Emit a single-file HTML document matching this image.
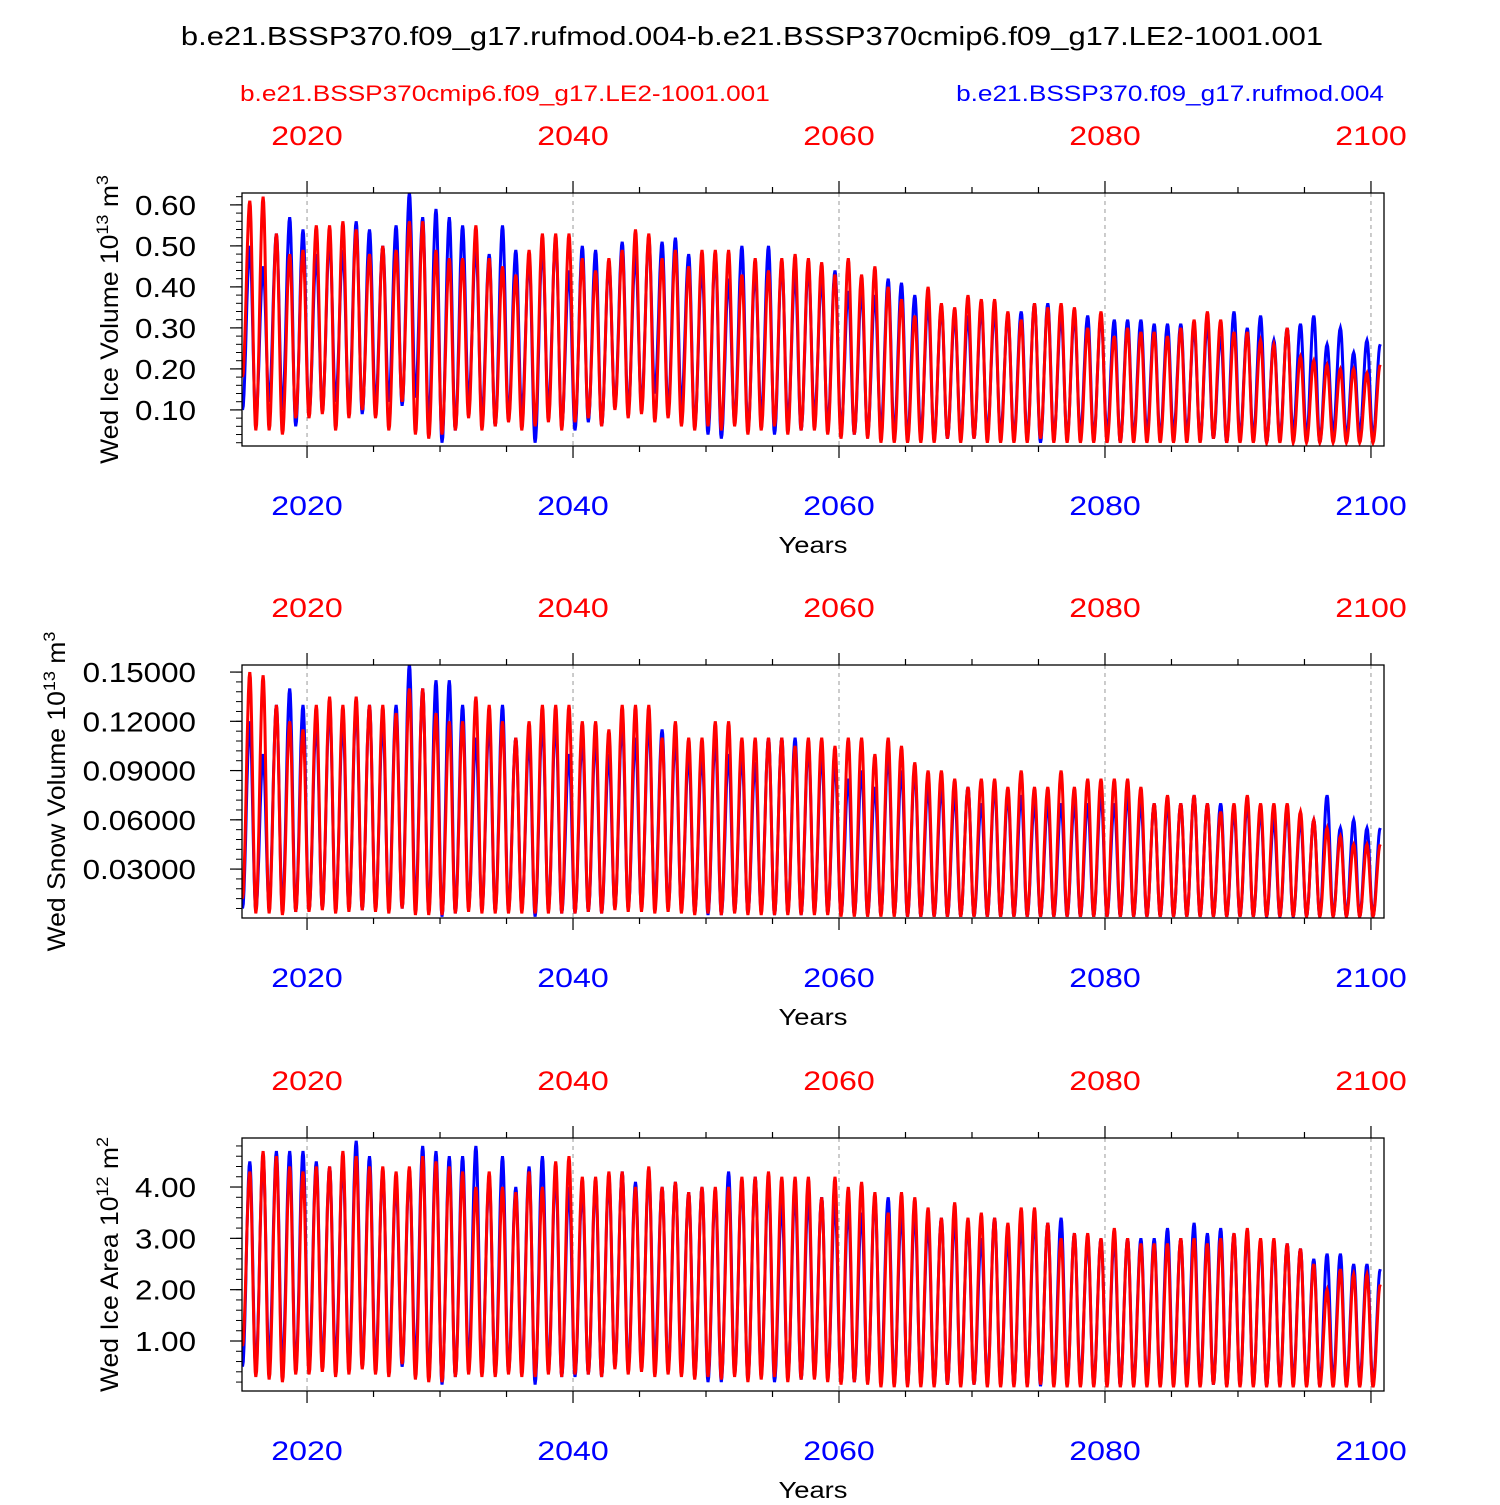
<!DOCTYPE html>
<html><head><meta charset="utf-8"><style>
body{margin:0;background:#fff;width:1500px;height:1500px;overflow:hidden}
svg{font-family:"Liberation Sans",sans-serif}
</style></head><body>
<svg id="chart" width="1500" height="1500" viewBox="0 0 1500 1500" xmlns="http://www.w3.org/2000/svg">
<text class="s19" x="752" y="45" font-size="26" text-anchor="middle">b.e21.BSSP370.f09_g17.rufmod.004-b.e21.BSSP370cmip6.f09_g17.LE2-1001.001</text>
<text class="s19" x="240" y="101" font-size="22" fill="#f00">b.e21.BSSP370cmip6.f09_g17.LE2-1001.001</text>
<text class="s19" x="1384" y="101" font-size="22" fill="#00f" text-anchor="end">b.e21.BSSP370.f09_g17.rufmod.004</text>
</svg>
<script>
const years=[];for(let y=2015;y<=2100;y++)years.push(y);
const xTicks=[2020,2040,2060,2080,2100];
const iceBlueMax=[0.50,0.45,0.53,0.57,0.54,0.48,0.52,0.49,0.56,0.54,0.50,0.55,0.63,0.57,0.59,0.57,0.55,0.50,0.48,0.55,0.49,0.47,0.50,0.52,0.44,0.50,0.49,0.46,0.51,0.48,0.52,0.51,0.52,0.48,0.45,0.48,0.42,0.50,0.44,0.50,0.46,0.43,0.45,0.42,0.44,0.39,0.39,0.38,0.42,0.41,0.38,0.36,0.35,0.33,0.33,0.35,0.34,0.33,0.34,0.36,0.36,0.33,0.33,0.33,0.33,0.32,0.32,0.32,0.31,0.31,0.31,0.30,0.31,0.28,0.34,0.30,0.33,0.27,0.30,0.31,0.33,0.26,0.30,0.24,0.27,0.26];
const iceBlueMin=[0.10,0.08,0.12,0.10,0.06,0.09,0.10,0.12,0.10,0.09,0.11,0.12,0.11,0.13,0.07,0.02,0.05,0.12,0.08,0.06,0.08,0.09,0.02,0.10,0.06,0.05,0.07,0.06,0.11,0.10,0.11,0.14,0.10,0.11,0.06,0.04,0.03,0.07,0.05,0.08,0.04,0.07,0.05,0.08,0.06,0.05,0.04,0.04,0.05,0.04,0.03,0.04,0.03,0.03,0.04,0.03,0.04,0.04,0.03,0.03,0.02,0.03,0.03,0.04,0.03,0.04,0.02,0.03,0.04,0.03,0.04,0.04,0.03,0.03,0.02,0.03,0.03,0.02,0.03,0.04,0.03,0.02,0.04,0.03,0.04,0.03];
const iceRedMax=[0.61,0.62,0.53,0.48,0.49,0.55,0.55,0.56,0.54,0.48,0.50,0.49,0.56,0.56,0.49,0.47,0.47,0.55,0.47,0.45,0.43,0.49,0.53,0.53,0.53,0.47,0.44,0.47,0.49,0.54,0.53,0.47,0.49,0.45,0.49,0.49,0.49,0.43,0.47,0.44,0.47,0.48,0.47,0.46,0.43,0.47,0.43,0.45,0.40,0.37,0.33,0.40,0.36,0.35,0.38,0.37,0.37,0.34,0.32,0.36,0.35,0.36,0.35,0.30,0.34,0.28,0.30,0.29,0.29,0.28,0.30,0.32,0.34,0.32,0.29,0.29,0.27,0.26,0.30,0.23,0.22,0.21,0.20,0.20,0.19,0.21];
const iceRedMin=[0.18,0.05,0.05,0.04,0.08,0.08,0.09,0.05,0.08,0.10,0.08,0.05,0.12,0.04,0.03,0.04,0.05,0.08,0.05,0.06,0.07,0.05,0.06,0.07,0.05,0.07,0.08,0.06,0.10,0.08,0.09,0.07,0.08,0.06,0.05,0.06,0.05,0.06,0.04,0.05,0.06,0.04,0.05,0.05,0.04,0.03,0.04,0.03,0.02,0.02,0.02,0.02,0.02,0.03,0.02,0.03,0.02,0.02,0.02,0.02,0.03,0.02,0.02,0.02,0.02,0.02,0.02,0.02,0.02,0.02,0.02,0.02,0.02,0.03,0.02,0.02,0.02,0.02,0.02,0.02,0.02,0.02,0.02,0.02,0.02,0.02];
const snowBlueMax=[0.12,0.10,0.13,0.14,0.13,0.12,0.13,0.12,0.13,0.13,0.12,0.13,0.155,0.14,0.145,0.145,0.13,0.11,0.12,0.13,0.11,0.11,0.12,0.12,0.10,0.11,0.11,0.10,0.12,0.11,0.12,0.115,0.11,0.10,0.10,0.11,0.10,0.10,0.095,0.11,0.11,0.11,0.105,0.10,0.095,0.085,0.09,0.08,0.10,0.09,0.09,0.08,0.08,0.075,0.08,0.07,0.08,0.075,0.075,0.07,0.07,0.07,0.07,0.07,0.075,0.07,0.075,0.07,0.07,0.07,0.07,0.075,0.07,0.07,0.065,0.07,0.065,0.06,0.065,0.06,0.06,0.075,0.055,0.06,0.055,0.055];
const snowBlueMin=[0.006,0.005,0.008,0.006,0.004,0.005,0.006,0.007,0.006,0.005,0.006,0.007,0.006,0.008,0.004,0.001,0.003,0.007,0.005,0.004,0.005,0.005,0.001,0.006,0.003,0.003,0.004,0.003,0.006,0.006,0.006,0.008,0.006,0.006,0.003,0.002,0.002,0.004,0.003,0.004,0.002,0.003,0.002,0.004,0.003,0.002,0.002,0.002,0.002,0.002,0.001,0.001,0.001,0.001,0.001,0.001,0.001,0.001,0.001,0.001,0.001,0.001,0.001,0.001,0.001,0.001,0.001,0.001,0.001,0.001,0.001,0.001,0.001,0.001,0.001,0.001,0.001,0.001,0.001,0.001,0.001,0.001,0.001,0.001,0.001,0.001];
const snowRedMax=[0.15,0.148,0.13,0.12,0.115,0.13,0.135,0.13,0.135,0.13,0.13,0.125,0.14,0.14,0.125,0.12,0.12,0.135,0.13,0.12,0.11,0.12,0.13,0.13,0.13,0.12,0.12,0.115,0.13,0.13,0.13,0.11,0.12,0.11,0.11,0.12,0.12,0.11,0.11,0.11,0.11,0.105,0.11,0.11,0.105,0.11,0.11,0.10,0.11,0.105,0.095,0.09,0.09,0.085,0.08,0.085,0.085,0.08,0.09,0.08,0.08,0.09,0.08,0.085,0.085,0.085,0.085,0.08,0.07,0.075,0.07,0.075,0.07,0.065,0.07,0.075,0.07,0.07,0.07,0.065,0.06,0.055,0.05,0.045,0.045,0.045];
const snowRedMin=[0.012,0.003,0.003,0.002,0.004,0.004,0.005,0.003,0.004,0.005,0.004,0.003,0.006,0.002,0.002,0.002,0.003,0.004,0.003,0.003,0.003,0.003,0.003,0.003,0.003,0.003,0.004,0.003,0.005,0.004,0.004,0.003,0.004,0.003,0.002,0.003,0.002,0.003,0.002,0.002,0.002,0.002,0.002,0.002,0.002,0.001,0.001,0.001,0.001,0.001,0.001,0.001,0.001,0.001,0.001,0.001,0.001,0.001,0.001,0.001,0.001,0.001,0.001,0.001,0.001,0.001,0.001,0.001,0.001,0.001,0.001,0.001,0.001,0.001,0.001,0.001,0.001,0.001,0.001,0.001,0.001,0.001,0.001,0.001,0.001,0.001];
const areaBlueMax=[4.5,4.6,4.7,4.7,4.7,4.5,4.4,4.5,4.9,4.6,4.3,4.1,4.3,4.8,4.7,4.6,4.6,4.8,4.2,4.6,4.0,4.4,4.6,4.3,4.0,4.0,4.1,4.2,4.3,4.1,4.3,4.0,4.1,3.9,4.0,3.9,4.3,4.1,4.2,4.1,3.7,3.9,3.8,3.8,3.7,3.6,3.5,3.8,3.8,3.5,3.5,3.3,3.4,3.4,3.3,3.0,3.4,3.0,3.3,3.4,3.3,3.4,3.1,3.0,3.0,3.0,3.0,3.0,3.0,3.2,3.0,3.3,3.1,3.2,3.1,3.1,2.9,2.9,2.9,2.8,2.6,2.7,2.7,2.5,2.5,2.4];
const areaBlueMin=[0.5,0.45,0.6,0.5,0.45,0.5,0.55,0.6,0.5,0.5,0.55,0.6,0.5,0.6,0.3,0.15,0.3,0.55,0.4,0.35,0.4,0.45,0.15,0.45,0.3,0.3,0.35,0.3,0.5,0.45,0.5,0.6,0.45,0.5,0.3,0.2,0.2,0.35,0.25,0.35,0.2,0.3,0.25,0.35,0.3,0.2,0.2,0.2,0.25,0.2,0.15,0.2,0.15,0.15,0.2,0.15,0.2,0.2,0.15,0.15,0.12,0.15,0.15,0.2,0.15,0.2,0.12,0.15,0.2,0.15,0.2,0.2,0.15,0.15,0.12,0.15,0.15,0.12,0.15,0.2,0.15,0.12,0.2,0.15,0.2,0.15];
const areaRedMax=[4.3,4.7,4.6,4.4,4.3,4.4,4.4,4.7,4.6,4.4,4.4,4.3,4.4,4.6,4.5,4.4,4.3,4.0,4.3,4.0,3.9,4.3,4.0,4.5,4.6,4.2,4.2,4.3,4.3,4.0,4.4,4.0,4.1,3.9,4.0,4.0,4.0,4.2,4.2,4.3,4.2,4.2,4.2,3.8,4.2,4.0,4.1,3.9,3.5,3.9,3.8,3.6,3.4,3.7,3.4,3.5,3.4,3.3,3.6,3.6,3.3,3.0,3.1,3.1,3.0,3.2,3.0,2.9,2.9,2.9,3.0,3.0,2.9,3.0,3.1,3.2,3.0,3.0,2.9,2.8,2.5,2.0,2.4,2.3,2.3,2.1];
const areaRedMin=[0.9,0.3,0.25,0.2,0.35,0.35,0.4,0.3,0.35,0.45,0.35,0.3,0.55,0.25,0.2,0.2,0.3,0.35,0.3,0.3,0.35,0.3,0.3,0.35,0.3,0.35,0.35,0.3,0.45,0.35,0.4,0.3,0.35,0.3,0.25,0.3,0.25,0.3,0.2,0.25,0.3,0.2,0.25,0.25,0.2,0.15,0.2,0.15,0.1,0.1,0.1,0.1,0.1,0.15,0.1,0.15,0.1,0.1,0.1,0.1,0.15,0.1,0.1,0.1,0.1,0.1,0.1,0.1,0.1,0.1,0.1,0.1,0.1,0.15,0.1,0.1,0.1,0.1,0.1,0.1,0.1,0.1,0.1,0.1,0.1,0.1];
const iceTicks=[0.10,0.20,0.30,0.40,0.50,0.60];
const iceLabels=["0.10","0.20","0.30","0.40","0.50","0.60"];
const snowTicks=[0.03,0.06,0.09,0.12,0.15];
const snowLabels=["0.03000","0.06000","0.09000","0.12000","0.15000"];
const areaTicks=[1,2,3,4];
const areaLabels=["1.00","2.00","3.00","4.00"];

const svg=document.getElementById('chart');
const NS='http://www.w3.org/2000/svg';
const X0=242,X1=1384,T0=2015.11,T1=2100.98;
const xs=t=>X0+(t-T0)/(T1-T0)*(X1-X0);
function mk(tag,attrs,parent){const e=document.createElementNS(NS,tag);for(const k in attrs)e.setAttribute(k,attrs[k]);(parent||svg).appendChild(e);return e;}

const panels=[
 {top:193,bot:446,ymin:0.012,ymax:0.629,ticks:iceTicks,labels:iceLabels,minor:0.02,title:'Wed Ice Volume 10',sup:'13',unit:' m',usup:'3',tx:110,blue:[iceBlueMax,iceBlueMin],red:[iceRedMax,iceRedMin],key:'ice-volume'},
 {top:665,bot:918,ymin:0.0002,ymax:0.1543,ticks:snowTicks,labels:snowLabels,minor:0.006,title:'Wed Snow Volume 10',sup:'13',unit:' m',usup:'3',tx:57,blue:[snowBlueMax,snowBlueMin],red:[snowRedMax,snowRedMin],key:'snow-volume'},
 {top:1138,bot:1391,ymin:0.026,ymax:4.955,ticks:areaTicks,labels:areaLabels,minor:0.2,title:'Wed Ice Area 10',sup:'12',unit:' m',usup:'2',tx:110,blue:[areaBlueMax,areaBlueMin],red:[areaRedMax,areaRedMin],key:'ice-area'}
];
panels.forEach((p,pi)=>{
 const g=mk('g',{});
 
 
 const ys=v=>p.bot-(v-p.ymin)/(p.ymax-p.ymin)*(p.bot-p.top);
 const cid='clip'+pi;
 const cp=mk('clipPath',{id:cid},g);mk('rect',{x:X0,y:p.top,width:X1-X0,height:p.bot-p.top},cp);
 xTicks.forEach(t=>{const l=mk('line',{x1:xs(t),x2:xs(t),y1:p.top,y2:p.bot,stroke:'#999','stroke-dasharray':'4,4','stroke-width':1},g);
  
  });
 [['blue','#0000ff'],['red','#ff0000']].forEach(([s,c])=>{
  const mx=p[s][0],mn=p[s][1];const ext=[];
  years.forEach((y,i)=>{ext.push([y+0.15,mn[i]]);ext.push([y+0.7,mx[i]]);});
  let d='';
  for(let k=0;k<ext.length-1;k++){const [ta,va]=ext[k],[tb,vb]=ext[k+1];
   for(let j=0;j<=10;j++){const f=j/10,w=(1-Math.cos(Math.PI*f))/2;const t=ta+(tb-ta)*f,v=va+(vb-va)*w;
    d+=(d?'L':'M')+xs(t).toFixed(1)+','+ys(v).toFixed(1);}}
  const path=mk('path',{d:d,fill:'none',stroke:c,'stroke-width':3,'clip-path':'url(#'+cid+')'},g);
  
  
 });
 const fr=mk('rect',{x:X0,y:p.top,width:X1-X0,height:p.bot-p.top,fill:'none',stroke:'#000','stroke-width':1.3},g);
 
 
 for(let t=2020;t<=2100;t+=5){const maj=(t%20===0);const L=maj?12:6;
  mk('line',{x1:xs(t),x2:xs(t),y1:p.top,y2:p.top-L,stroke:'#000','stroke-width':1.2},g);
  mk('line',{x1:xs(t),x2:xs(t),y1:p.bot,y2:p.bot+L,stroke:'#000','stroke-width':1.2},g);}
 xTicks.forEach(t=>{
  const a=mk('text',{x:xs(t),y:p.top-48,'font-size':27,fill:'#f00','text-anchor':'middle','class':'s19'},g);a.textContent=t;
  
  
  const b=mk('text',{x:xs(t),y:p.bot+69,'font-size':27,fill:'#00f','text-anchor':'middle','class':'s19'},g);b.textContent=t;
  
  });
 const yt=mk('text',{x:813,y:p.bot+107,'font-size':23,'text-anchor':'middle','class':'s19'},g);yt.textContent='Years';
 
 
 for(let v=Math.ceil(p.ymin/p.minor)*p.minor;v<=p.ymax;v+=p.minor){const y=ys(v);if(y<p.top||y>p.bot)continue;
  mk('line',{x1:X0,x2:X0-6,y1:y,y2:y,stroke:'#000','stroke-width':1},g);}
 p.ticks.forEach((v,i)=>{const y=ys(v);
  mk('line',{x1:X0,x2:X0-12,y1:y,y2:y,stroke:'#000','stroke-width':1.2},g);
  const tl=mk('text',{x:X0-46,y:y+10,'font-size':28,'text-anchor':'end','class':'s12'},g);tl.textContent=p.labels[i];
  
  });
 const cy=(p.top+p.bot)/2;
 const tt=mk('text',{x:p.tx+8,y:cy,'font-size':25,'text-anchor':'middle','class':'s08',transform:'rotate(-90 '+(p.tx+8)+' '+cy+')'},g);
 
 
 tt.innerHTML=p.title+'<tspan dy="-10" font-size="17">'+p.sup+'</tspan><tspan dy="10">'+p.unit+'</tspan><tspan dy="-10" font-size="17">'+p.usup+'</tspan>';
});
// widen text to match reference glyph widths
[['s19',1.19],['s12',1.12],['s08',1.06]].forEach(([c,f])=>{
 document.querySelectorAll('text.'+c).forEach(t=>{
  const L=t.getComputedTextLength();
  t.setAttribute('textLength',(L*f).toFixed(1));
  t.setAttribute('lengthAdjust','spacingAndGlyphs');
 });
});
</script>
</body></html>
